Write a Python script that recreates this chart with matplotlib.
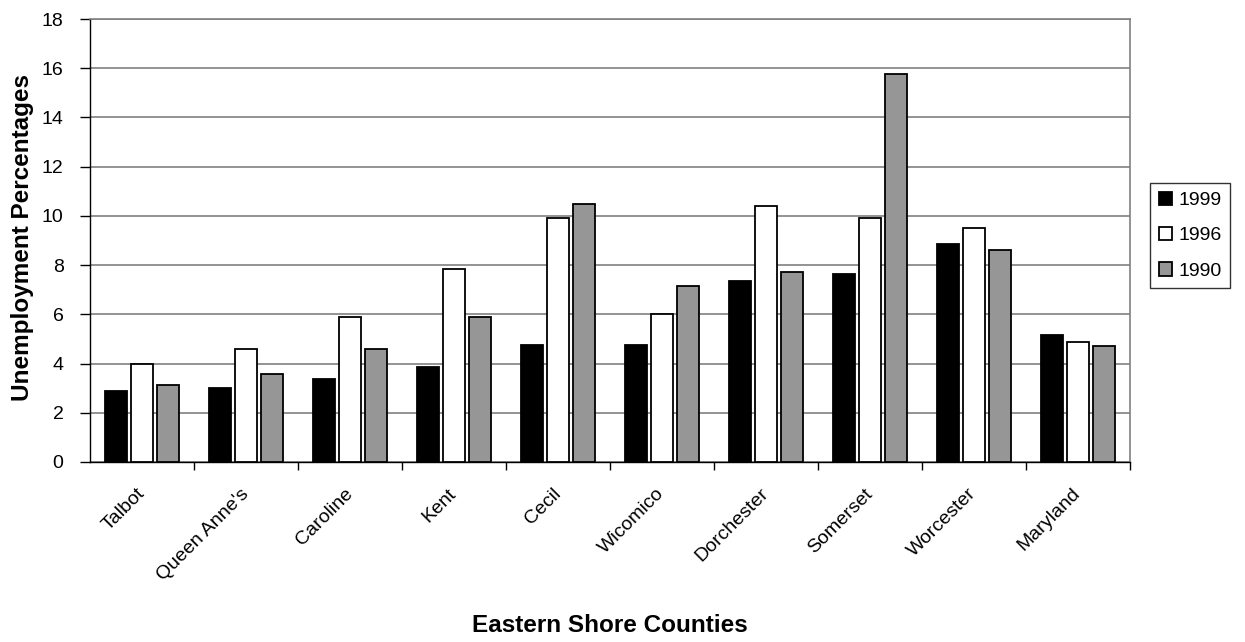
import numpy as np
import matplotlib
matplotlib.use("Agg")
import matplotlib.pyplot as plt
import matplotlib.transforms as mtransforms

plt.rcParams['font.family'] = ['Liberation Sans', 'DejaVu Sans']

counties = ["Talbot", "Queen Anne's", "Caroline", "Kent", "Cecil",
            "Wicomico", "Dorchester", "Somerset", "Worcester", "Maryland"]
years = ["1999", "1996", "1990"]
rate1999 = [2.87, 3.02, 3.36, 3.84, 4.75, 4.75, 7.34, 7.65, 8.87, 5.14]
rate1996 = [4.0, 4.6, 5.9, 7.85, 9.91, 6.02, 10.4, 9.91, 9.52, 4.87]
rate1990 = [3.11, 3.57, 4.6, 5.9, 10.48, 7.15, 7.72, 15.78, 8.61, 4.72]

colors = ['black', 'white', '#969696']

fig = plt.figure(figsize=(12.45, 6.42), dpi=100)
ax = fig.add_axes([90/1245, 1-462/642, 1040/1245, 443/642])

x = np.arange(len(counties))
step = 0.25
for i, (vals, c) in enumerate(zip([rate1999, rate1996, rate1990], colors)):
    ax.bar(x + (i - 1) * step, vals, width=0.21, color=c, edgecolor='black',
           linewidth=1.3, label=years[i], zorder=3)

ax.set_xlim(-0.5, len(counties) - 0.5)
ax.set_ylim(0, 18)
ax.set_yticks(np.arange(0, 19, 2))
ax.yaxis.grid(True, color='#808080', linewidth=1.2, zorder=0)
ax.set_axisbelow(True)

# category boundaries get the tick marks, names sit under the group centres
ax.set_xticks(x + 0.5, minor=False)
ax.set_xticklabels([])
ax.set_xticks(x, minor=True)
ax.set_xticklabels(counties, minor=True, rotation=45, ha='right', va='center',
                   rotation_mode='anchor', fontsize=14)
shift = mtransforms.ScaledTranslation(-2/100, 0, fig.dpi_scale_trans)
for lab in ax.get_xticklabels(minor=True):
    lab.set_transform(lab.get_transform() + shift)
ax.tick_params(axis='x', which='minor', length=0, pad=21)
ax.tick_params(axis='x', which='major', length=6, direction='out', width=1)
ax.tick_params(axis='y', length=7, direction='out', labelsize=14, width=1,
               pad=12)

for s in ['top', 'right']:
    ax.spines[s].set_color('#808080')
    ax.spines[s].set_linewidth(1.2)
ax.spines['left'].set_linewidth(1)
ax.spines['bottom'].set_linewidth(1)

fig.text(23/1245, 1 - 238/642, 'Unemployment Percentages', rotation=90,
         ha='center', va='center', fontsize=17.5, fontweight='bold')
fig.text(610/1245, 1 - 625/642, 'Eastern Shore Counties',
         ha='center', va='center', fontsize=17.5, fontweight='bold')

leg = fig.legend(loc='upper left', bbox_to_anchor=(1150/1245, 1 - 183/642),
                 frameon=True, fancybox=False, fontsize=14,
                 handlelength=0.7, handleheight=0.7, handletextpad=0.3,
                 labelspacing=0.9, borderpad=0.45, borderaxespad=0)
leg.get_frame().set_edgecolor('black')
leg.get_frame().set_linewidth(1)

fig.savefig('out.png', dpi=100)
